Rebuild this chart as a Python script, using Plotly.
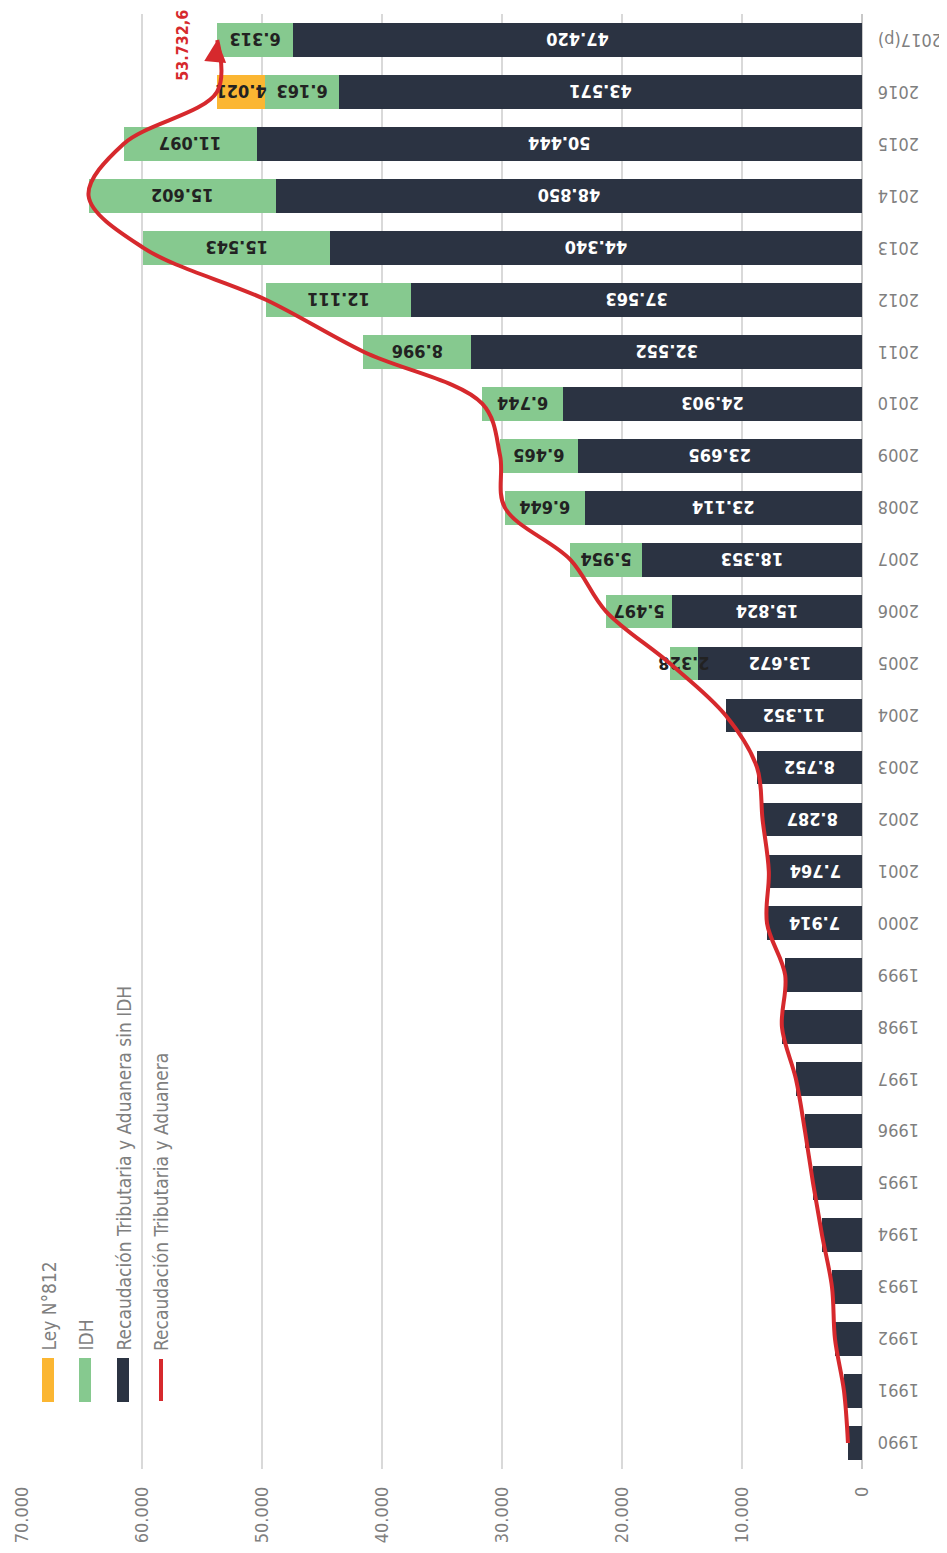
import plotly.graph_objects as go

years = [str(y) for y in range(1990, 2017)] + ["2017(p)"]
sin_idh = [1170, 1500, 2250, 2500, 3330, 4080, 4750, 5500, 6670, 6400,
           7914, 7764, 8287, 8752, 11352, 13672, 15824, 18353, 23114, 23695,
           24903, 32552, 37563, 44340, 48850, 50444, 43571, 47420]
idh = [0] * 15 + [2328, 5497, 5954, 6644, 6465, 6744, 8996, 12111, 15543,
                  15602, 11097, 6163, 6313]
ley812 = [0] * 26 + [4021, 0]
labeled_from = 2000
total_label = "53.732,6"
x_ticks = [0, 10000, 20000, 30000, 40000, 50000, 60000, 70000]
legend_names = ["Ley N°812", "IDH", "Recaudación Tributaria y Aduanera sin IDH",
                "Recaudación Tributaria y Aduanera"]

totals = [a + b + c for a, b, c in zip(sin_idh, idh, ley812)]


def fmt(v):
    return f"{v:,}".replace(",", ".")


C_DARK = "#2b3342"
C_GREEN = "#86c98f"
C_ORANGE = "#fbb632"
C_RED = "#d6292d"
GRAY = "#7f7f7f"
NARROW = "Liberation Sans Narrow, DejaVu Sans Condensed, Roboto Condensed, Arial Narrow, sans-serif"

# page body has an 8px margin: figure coords = screen coords - 8
OFF = 8
W, H = 947 - OFF, 1553 - OFF
ML, MR, MT, MB = 22 - OFF, 85, 14 - OFF, 84
PW, PH = W - ML - MR, H - MT - MB


def px(x):  # screen px -> paper
    return (x - OFF - ML) / PW


def py(y):
    return 1 - (y - OFF - MT) / PH


fig = go.Figure()

text_sin = [fmt(v) if int(y[:4]) >= labeled_from else "" for y, v in zip(years, sin_idh)]
text_idh = [fmt(v) if v else "" for v in idh]
text_ley = [fmt(v) if v else "" for v in ley812]

common = dict(orientation="h", textposition="inside", insidetextanchor="middle",
              textangle=180, constraintext="none", showlegend=False,
              marker_line_width=0, cliponaxis=False)
BAR_FS = 18

fig.add_trace(go.Bar(y=years, x=sin_idh, text=text_sin, marker_color=C_DARK,
                     textfont=dict(family=NARROW, size=BAR_FS, color="white", weight="bold"),
                     name=legend_names[2], **common))
fig.add_trace(go.Bar(y=years, x=idh, text=text_idh, marker_color=C_GREEN,
                     textfont=dict(family=NARROW, size=BAR_FS, color="#222222", weight="bold"),
                     name=legend_names[1], **common))
fig.add_trace(go.Bar(y=years, x=ley812, text=text_ley, marker_color=C_ORANGE,
                     textfont=dict(family=NARROW, size=BAR_FS, color="#222222", weight="bold"),
                     name=legend_names[0], **common))
fig.add_trace(go.Scatter(y=years, x=totals, mode="lines",
                         line=dict(color=C_RED, width=4, shape="spline", smoothing=1.0),
                         showlegend=False, name=legend_names[3], hoverinfo="skip"))

last = len(years) - 1
# arrow at the end of the total line
fig.add_annotation(x=totals[-1], y=last, xref="x", yref="y", ax=-2, ay=22,
                   showarrow=True, arrowhead=2, arrowsize=1.1, arrowwidth=4,
                   arrowcolor=C_RED, text="")
fig.add_annotation(x=totals[-1], y=last, xref="x", yref="y", xshift=-23, yshift=-5,
                   text=f"<b>{total_label}</b>", textangle=-90, showarrow=False,
                   xanchor="right", font=dict(family=NARROW, size=16, color=C_RED))

# year labels (rotated 180°, left aligned on screen)
for i, yr in enumerate(years):
    fig.add_annotation(x=px(876), y=i, xref="paper", yref="y", text=yr,
                       textangle=180, showarrow=False, xanchor="left",
                       font=dict(family=NARROW, size=18, color=GRAY))

# legend (drawn rotated)
leg_x = [48, 85, 123, 161]
leg_col = [C_ORANGE, C_GREEN, C_DARK, C_RED]
for i, (cx, col, name) in enumerate(zip(leg_x, leg_col, legend_names)):
    if i < 3:
        fig.add_shape(type="rect", xref="paper", yref="paper",
                      x0=px(cx - 6), x1=px(cx + 6), y0=py(1402), y1=py(1358),
                      fillcolor=col, line_width=0, layer="above")
    else:
        fig.add_shape(type="line", xref="paper", yref="paper",
                      x0=px(cx), x1=px(cx), y0=py(1401), y1=py(1359),
                      line=dict(color=col, width=4), layer="above")
    fig.add_annotation(x=px(cx), y=py(1353), xref="paper", yref="paper",
                       text=name, textangle=-90, showarrow=False,
                       xanchor="center", yanchor="bottom",
                       font=dict(family=NARROW, size=19, color=GRAY))

fig.update_layout(
    template="none",
    width=W, height=H, barmode="stack", bargap=0.35,
    margin=dict(l=ML, r=MR, t=MT, b=MB, autoexpand=False),
    plot_bgcolor="white", paper_bgcolor="white",
    font=dict(family=NARROW, color=GRAY),
)
fig.update_xaxes(range=[70000, 0], tickvals=x_ticks, ticktext=[fmt(v) for v in x_ticks],
                 tickangle=-90, showgrid=True, gridcolor="#d9d9d9", gridwidth=1.5,
                 zeroline=True, zerolinecolor="#c8c8c8", zerolinewidth=2,
                 showline=False, automargin=False,
                 tickfont=dict(family=NARROW, size=18, color=GRAY), ticks="",
                 ticklabelstandoff=13)
fig.update_yaxes(type="category", categoryorder="array", categoryarray=years,
                 range=[-0.5, len(years) - 0.5], side="right", showgrid=False,
                 showticklabels=False, zeroline=False, showline=False,
                 automargin=False, ticks="")

fig.write_html("out.html")
